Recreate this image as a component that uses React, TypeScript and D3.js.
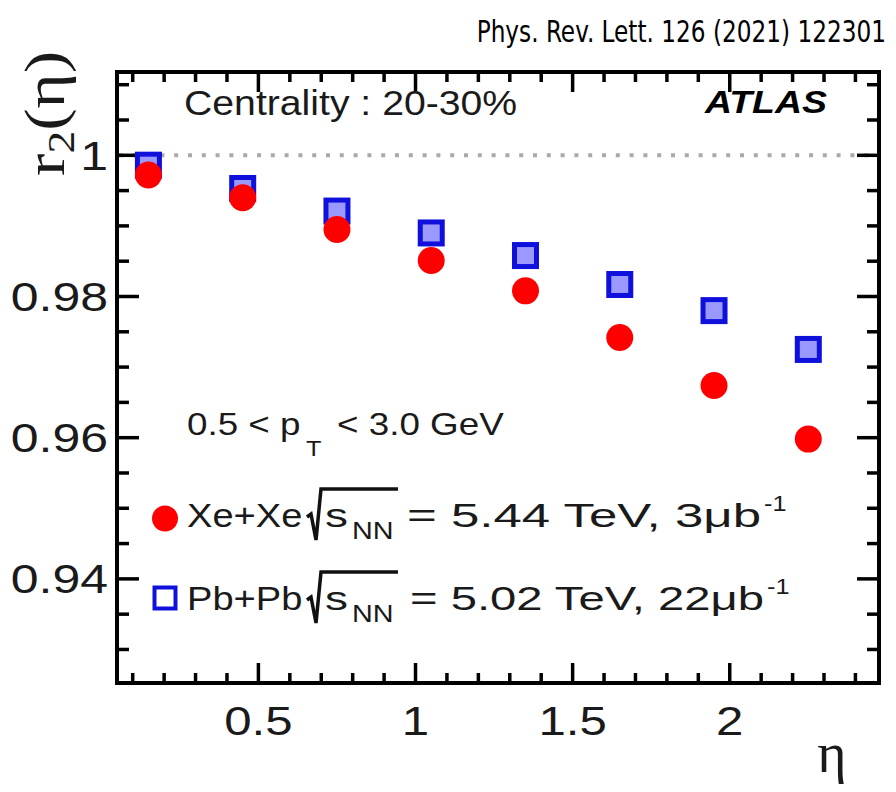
import React from "react";
import * as d3 from "d3";

const etaValues = [0.15, 0.45, 0.75, 1.05, 1.35, 1.65, 1.95, 2.25];
const pbpbR2 = [0.9986, 0.9953, 0.9921, 0.989, 0.9858, 0.9817, 0.978, 0.9725];
const xexeR2 = [0.9972, 0.994, 0.9895, 0.9851, 0.9808, 0.9742, 0.9674, 0.9598];
const xMajorTicks = [0.5, 1, 1.5, 2];
const xTickLabels = ["0.5", "1", "1.5", "2"];
const yMajorTicks = [0.94, 0.96, 0.98, 1];
const yTickLabels = ["0.94", "0.96", "0.98", "1"];
const xMinorTicks = d3.range(1, 25).map((i) => i / 10);
const yMinorTicks = d3.range(0, 17).map((i) => 0.93 + i * 0.005);

const SANS = "'Liberation Sans', Arial, Helvetica, sans-serif";
const SERIF = "'Liberation Serif', 'Times New Roman', serif";
const INK = "#1a1a1a";

const L = 117, R = 879, T = 72, B = 683;

export default function App() {
  const x = d3.scaleLinear().domain([0.05, 2.475]).range([L, R]);
  const y = d3.scaleLinear().domain([0.92525, 1.0118]).range([B, T]);
  const sx = 1.15;

  const isMajorX = (v: number) => xMajorTicks.some((m) => Math.abs(m - v) < 1e-6);
  const isMajorY = (v: number) => yMajorTicks.some((m) => Math.abs(m - v) < 1e-6);

  const stretched = (px: number, py: number, content: React.ReactNode, k = sx) => (
    <g transform={`translate(${px},${py}) scale(${k},1)`}>{content}</g>
  );

  const radical = (x0: number, yTop: number, xEnd: number) =>
    `M${x0},${yTop + 28} L${x0 + 4},${yTop + 25} L${x0 + 9},${yTop + 51} L${x0 + 14},${yTop} L${xEnd},${yTop}`;

  return (
    <svg
      width={896}
      height={792}
      style={{ position: "absolute", left: 0, top: 0, background: "#fff" }}
    >
      <rect x={0} y={0} width={896} height={792} fill="#fff" />
      {/* reference text */}
      <g transform="translate(886,42) scale(0.86,1)">
        <text
          textAnchor="end"
          fontFamily="'Liberation Sans Narrow', 'DejaVu Sans Condensed', Lato, sans-serif"
          fontSize={30}
          fill="#000"
        >
          Phys. Rev. Lett. 126 (2021) 122301
        </text>
      </g>

      {/* dotted line at 1 */}
      <line
        x1={L + 2}
        x2={R - 2}
        y1={y(1)}
        y2={y(1)}
        stroke="#aaaaaa"
        strokeWidth={4}
        strokeDasharray="4 9.8"
      />

      {/* ticks */}
      <g stroke="#000" strokeWidth={3.5}>
        {xMinorTicks.map((v) => {
          const len = isMajorX(v) ? 20 : 10;
          return (
            <g key={"xt" + v}>
              <line x1={x(v)} x2={x(v)} y1={B} y2={B - len} />
              <line x1={x(v)} x2={x(v)} y1={T} y2={T + len} />
            </g>
          );
        })}
        {yMinorTicks.map((v) => {
          const len = isMajorY(v) ? 22 : 12;
          return (
            <g key={"yt" + v}>
              <line x1={L} x2={L + len} y1={y(v)} y2={y(v)} />
              <line x1={R} x2={R - len} y1={y(v)} y2={y(v)} />
            </g>
          );
        })}
      </g>

      {/* frame */}
      <rect x={L} y={T} width={R - L} height={B - T} fill="none" stroke="#000" strokeWidth={4} />

      {/* y tick labels */}
      {yMajorTicks.map((v, i) => (
        <g key={"yl" + v}>
          {stretched(
            108,
            y(v) + 14.5,
            <text textAnchor="end" fontFamily={SANS} fontSize={41} fill={INK}>
              {yTickLabels[i]}
            </text>,
            1.22
          )}
        </g>
      ))}
      {/* x tick labels */}
      {xMajorTicks.map((v, i) => (
        <g key={"xl" + v}>
          {stretched(
            x(v),
            735,
            <text textAnchor="middle" fontFamily={SANS} fontSize={41} fill={INK}>
              {xTickLabels[i]}
            </text>,
            1.2
          )}
        </g>
      ))}

      {/* axis titles */}
      <g transform="translate(64,176) rotate(-90) scale(1.2,1)">
        <text fontFamily={SERIF} fontSize={56} fill={INK}>
          r<tspan fontSize={38} dy={10}>2</tspan>
          <tspan dy={-10}>(η)</tspan>
        </text>
      </g>
      <text x={832} y={772} textAnchor="middle" fontFamily={SERIF} fontSize={56} fill={INK}>
        η
      </text>

      {/* labels */}
      {stretched(
        184,
        115,
        <text fontFamily={SANS} fontSize={35} fill={INK}>
          Centrality : 20-30%
        </text>,
        1.12
      )}
      {stretched(
        705,
        113,
        <text fontFamily={SANS} fontSize={32} fontWeight="bold" fontStyle="italic" fill="#000">
          ATLAS
        </text>,
        1.17
      )}

      {/* pT label */}
      {stretched(187, 435, <text fontFamily={SANS} fontSize={32} fill={INK}>0.5 &lt; p</text>)}
      {stretched(306, 456, <text fontFamily={SANS} fontSize={22} fill={INK}>T</text>)}
      {stretched(337, 435, <text fontFamily={SANS} fontSize={32} fill={INK}>&lt; 3.0 GeV</text>)}

      {/* legend Xe+Xe */}
      <circle cx={165} cy={518.5} r={13} fill="#ff0000" />
      {stretched(187, 527, <text fontFamily={SANS} fontSize={34} fill={INK}>Xe+Xe</text>, 1.12)}
      <path d={radical(307, 489, 398)} fill="none" stroke="#111" strokeWidth={3.5} />
      {stretched(325, 527, <text fontFamily={SANS} fontSize={34} fill={INK}>s</text>, 1.35)}
      {stretched(352, 539, <text fontFamily={SANS} fontSize={23} fill={INK}>NN</text>, 1.25)}
      <text x={407} y={527} fontFamily={SANS} fontSize={34} fill={INK} textLength={354} lengthAdjust="spacingAndGlyphs">
        = 5.44 TeV, 3μb
      </text>
      {stretched(764, 511, <text fontFamily={SANS} fontSize={22} fill={INK}>-1</text>)}

      {/* legend Pb+Pb */}
      <rect x={154.5} y={587.5} width={21} height={21} fill="#fff" stroke="#1010dd" strokeWidth={4} />
      {stretched(187, 610, <text fontFamily={SANS} fontSize={34} fill={INK}>Pb+Pb</text>, 1.12)}
      <path d={radical(307, 572, 398)} fill="none" stroke="#111" strokeWidth={3.5} />
      {stretched(325, 610, <text fontFamily={SANS} fontSize={34} fill={INK}>s</text>, 1.35)}
      {stretched(352, 622, <text fontFamily={SANS} fontSize={23} fill={INK}>NN</text>, 1.25)}
      <text x={410} y={610} fontFamily={SANS} fontSize={34} fill={INK} textLength={354} lengthAdjust="spacingAndGlyphs">
        = 5.02 TeV, 22μb
      </text>
      {stretched(767, 594, <text fontFamily={SANS} fontSize={22} fill={INK}>-1</text>)}

      {/* data: Pb+Pb squares */}
      {etaValues.map((e, i) => (
        <rect
          key={"pb" + i}
          x={x(e) - 11}
          y={y(pbpbR2[i]) - 11}
          width={22}
          height={22}
          fill="#9999ff"
          stroke="#1010dd"
          strokeWidth={5}
        />
      ))}
      {/* data: Xe+Xe circles */}
      {etaValues.map((e, i) => (
        <circle key={"xe" + i} cx={x(e)} cy={y(xexeR2[i])} r={13.5} fill="#ff0000" />
      ))}
    </svg>
  );
}
